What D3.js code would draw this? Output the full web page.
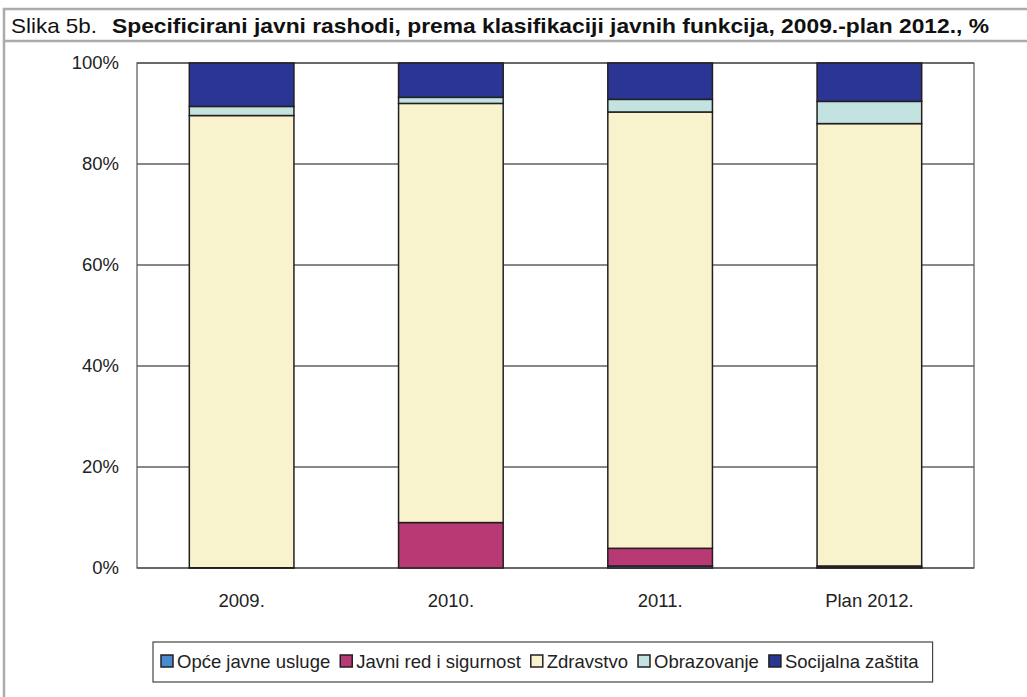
<!DOCTYPE html>
<html>
<head>
<meta charset="utf-8">
<script src="https://cdn.jsdelivr.net/npm/d3@7"></script>
<style>
  body { margin: 0; background: #fff; }
  svg { display: block; font-family: "Liberation Sans", Arial, sans-serif; }
</style>
</head>
<body>
<svg id="chart"></svg>
<script>
// Data (shares in %)
const years = ["2009.", "2010.", "2011.", "Plan 2012."];
const seriesNames = ["Opće javne usluge", "Javni red i sigurnost", "Zdravstvo", "Obrazovanje", "Socijalna zaštita"];
const seriesColors = ["#4a8bd0", "#b83a74", "#f8f3cc", "#c2e3e0", "#2b3593"];
const opceJavne = [0.0, 0.0, 0.4, 0.1];
const javniRed = [0.05, 9.0, 3.5, 0.3];
const zdravstvo = [89.55, 83.0, 86.4, 87.6];
const obrazovanje = [1.8, 1.2, 2.5, 4.4];
const socijalna = [8.6, 6.8, 7.2, 7.6];
const yTicks = [0, 20, 40, 60, 80, 100];

const W = 1027, H = 697;
const svg = d3.select("#chart").attr("width", W).attr("height", H);

// outer frame of the figure
svg.append("rect").attr("width", W).attr("height", H).attr("fill", "#fff");
svg.append("path")
    .attr("d", `M4,${H} V9 H${W} M4,41 H${W}`)
    .attr("fill", "none")
    .attr("stroke", "#ababab")
    .attr("stroke-width", 2.5);

// title
svg.append("text")
    .attr("x", 11)
    .attr("y", 33)
    .attr("font-size", "21px")
    .attr("fill", "#111")
    .attr("textLength", 86)
    .attr("lengthAdjust", "spacingAndGlyphs")
    .text("Slika 5b.");
svg.append("text")
    .attr("x", 112)
    .attr("y", 33)
    .attr("font-size", "21px")
    .attr("font-weight", "bold")
    .attr("fill", "#111")
    .attr("textLength", 877)
    .attr("lengthAdjust", "spacingAndGlyphs")
    .text("Specificirani javni rashodi, prema klasifikaciji javnih funkcija, 2009.-plan 2012., %");

// plot area
const plot = { left: 137, right: 974, top: 63, bottom: 568 };

const x = d3.scaleBand()
    .domain(years)
    .range([plot.left, plot.right])
    .paddingInner(0.5)
    .paddingOuter(0.25);

const y = d3.scaleLinear()
    .domain([0, 100])
    .range([plot.bottom, plot.top]);

// table for stacking
const table = years.map((yr, i) => ({
    year: yr,
    [seriesNames[0]]: opceJavne[i],
    [seriesNames[1]]: javniRed[i],
    [seriesNames[2]]: zdravstvo[i],
    [seriesNames[3]]: obrazovanje[i],
    [seriesNames[4]]: socijalna[i]
}));
const stacked = d3.stack().keys(seriesNames)(table);

// gridlines
svg.append("g")
    .selectAll("line")
    .data(yTicks)
    .join("line")
    .attr("x1", plot.left)
    .attr("x2", plot.right)
    .attr("y1", d => y(d))
    .attr("y2", d => y(d))
    .attr("stroke", "#111")
    .attr("stroke-width", 1);

// plot border
svg.append("rect")
    .attr("x", plot.left)
    .attr("y", plot.top)
    .attr("width", plot.right - plot.left)
    .attr("height", plot.bottom - plot.top)
    .attr("fill", "none")
    .attr("stroke", "#555")
    .attr("stroke-width", 1.2);

// bars
const layers = svg.append("g")
    .selectAll("g")
    .data(stacked)
    .join("g")
    .attr("fill", (d, i) => seriesColors[i]);

layers.selectAll("rect")
    .data(d => d)
    .join("rect")
    .attr("x", d => x(d.data.year))
    .attr("width", x.bandwidth())
    .attr("y", d => y(d[1]))
    .attr("height", d => y(d[0]) - y(d[1]))
    .attr("stroke", "#231f20")
    .attr("stroke-width", 1.5);

// y axis labels
const yAxis = svg.append("g")
    .attr("transform", `translate(${plot.left},0)`)
    .call(d3.axisLeft(y).tickValues(yTicks).tickFormat(d => d + "%").tickSize(0).tickPadding(18));
yAxis.select(".domain").remove();
yAxis.selectAll("text")
    .attr("font-size", "18.5px")
    .attr("font-family", "'Liberation Sans', Arial, sans-serif")
    .attr("fill", "#222");

// x axis labels
const xAxis = svg.append("g")
    .attr("transform", `translate(0,${plot.bottom})`)
    .call(d3.axisBottom(x).tickSize(0).tickPadding(26));
xAxis.select(".domain").remove();
xAxis.selectAll("text")
    .attr("font-size", "18.5px")
    .attr("font-family", "'Liberation Sans', Arial, sans-serif")
    .attr("fill", "#222");

// legend
const legend = svg.append("g");
const legendBox = legend.append("rect")
    .attr("fill", "#fff")
    .attr("stroke", "#444")
    .attr("stroke-width", 1.2);

let lx = 161;
const ly = 661;
seriesNames.forEach((name, i) => {
    legend.append("rect")
        .attr("x", lx)
        .attr("y", ly - 6)
        .attr("width", 12)
        .attr("height", 12)
        .attr("fill", seriesColors[i])
        .attr("stroke", "#231f20")
        .attr("stroke-width", 1.5);
    const t = legend.append("text")
        .attr("x", lx + 16)
        .attr("y", ly + 6.5)
        .attr("font-size", "18.5px")
        .attr("fill", "#222")
        .text(name);
    lx += 16 + t.node().getComputedTextLength() + 10;
});
legendBox
    .attr("x", 153)
    .attr("y", 642)
    .attr("width", lx - 153 + 4)
    .attr("height", 40);
</script>
</body>
</html>
